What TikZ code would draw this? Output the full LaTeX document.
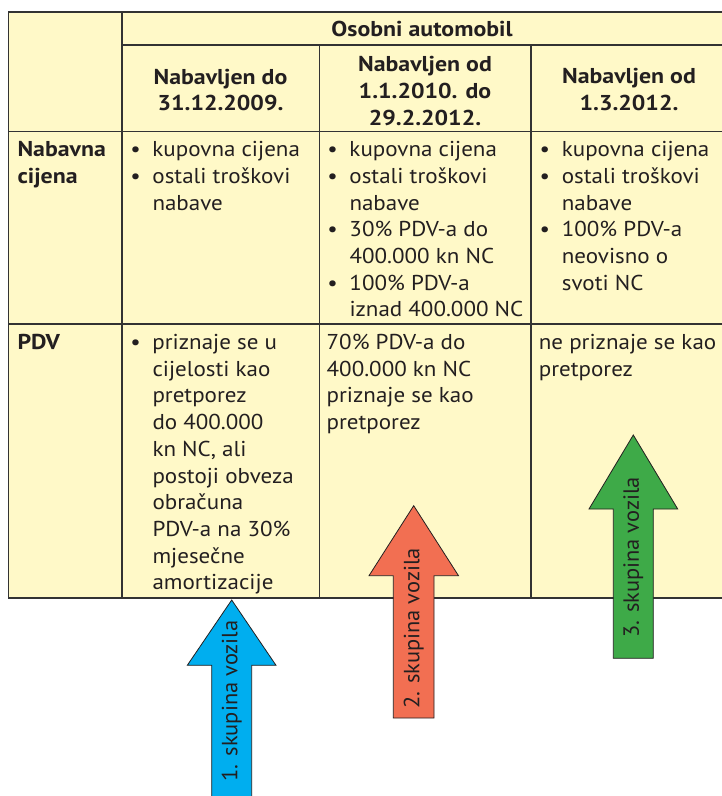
\documentclass[tikz,border=0pt]{standalone}
\usepackage{fontspec}
\setmainfont{PT Sans}[FakeStretch=1.07,BoldFeatures={FakeStretch=1.11}]
\newfontfamily\arrowfont{PT Sans}[FakeStretch=1.02]
\definecolor{cellfill}{HTML}{FFF9C8}
\definecolor{rulec}{HTML}{333333}
\definecolor{ink}{HTML}{231F20}
\definecolor{blueA}{HTML}{00AEEF}
\definecolor{orangeA}{HTML}{F26F52}
\definecolor{greenA}{HTML}{3EAA48}
\newcommand{\bl}{\makebox[0pt][r]{\makebox[12pt]{•}\hspace{11pt}}}
\begin{document}
\begin{tikzpicture}[x=1pt,y=-1pt,
  grid/.style={draw=rulec,line width=1.2pt},
  celltext/.style={inner sep=0pt,anchor=base west,text=ink,font=\fontsize{21.5}{26.7}\selectfont},
  headtext/.style={inner sep=0pt,anchor=base,text=ink,font=\fontsize{21.5}{26.7}\selectfont\bfseries},
  bigarrow/.style={draw=ink,line width=0.8pt,line join=miter},
  arrowlabel/.style={inner sep=0pt,rotate=90,text=ink,font=\arrowfont\fontsize{22}{26}\selectfont}]
\useasboundingbox (0,0) rectangle (722,796);
% table background
\fill[cellfill] (8.5,12) rectangle (722,598);
% grid
\draw[grid] (722,12) -- (8.5,12) -- (8.5,598) -- (722,598);
\draw[grid] (122,45) -- (722,45);
\draw[grid] (8.5,131.7) -- (722,131.7);
\draw[grid] (8.5,324) -- (722,324);
\draw[grid] (122,12) -- (122,598);
\draw[grid] (319.5,45) -- (319.5,598);
\draw[grid] (531,45) -- (531,598);
% header
\node[headtext] (osobni) at (422,36.5) {Osobni automobil};
\node[headtext] (h1) at (220.5,84) {\parbox[t]{190pt}{\centering Nabavljen do\\31.12.2009.}};
\node[headtext] (h2) at (425,71.7) {\parbox[t]{205pt}{\centering Nabavljen od\\1.1.2010. do\\29.2.2012.}};
\node[headtext] (h3) at (629,83.3) {\parbox[t]{185pt}{\centering Nabavljen od\\1.3.2012.}};
% row labels
\node[celltext,font=\fontsize{21.5}{26.7}\selectfont\bfseries] (r1) at (17.3,156.7) {\parbox[t]{100pt}{Nabavna\\cijena}};
\node[celltext,font=\fontsize{21.5}{26.7}\selectfont\bfseries] (r2) at (17.3,349.5) {PDV};
% row: Nabavna cijena
\node[celltext] (c11) at (152.3,156.7) {\parbox[t]{165pt}{\raggedright\bl kupovna cijena\\\bl ostali troškovi\\nabave}};
\node[celltext] (c12) at (349.3,156.7) {\parbox[t]{180pt}{\raggedright\bl kupovna cijena\\\bl ostali troškovi\\nabave\\\bl 30\% PDV-a do\\400.000 kn NC\\\bl 100\% PDV-a\\iznad 400.000 NC}};
\node[celltext] (c13) at (561.7,156.7) {\parbox[t]{160pt}{\raggedright\bl kupovna cijena\\\bl ostali troškovi\\nabave\\\bl 100\% PDV-a\\neovisno o\\svoti NC}};
% row: PDV
\node[celltext] (c21) at (152.3,349.5) {\parbox[t]{165pt}{\raggedright\bl priznaje se u\\cijelosti kao\\pretporez\\do 400.000\\kn NC, ali\\postoji obveza\\obračuna\\PDV-a na 30\%\\mjesečne\\amortizacije}};
\node[celltext] (c22) at (326.5,349.5) {\parbox[t]{200pt}{\raggedright 70\% PDV-a do\\400.000 kn NC\\priznaje se kao\\pretporez}};
\node[celltext] (c23) at (538.7,349.5) {\parbox[t]{185pt}{\raggedright ne priznaje se kao\\pretporez}};
% arrows
\draw[bigarrow,fill=blueA] (211.7,797) -- (211.7,665.3) -- (187.3,665.3) -- (231.7,600) -- (276,665.3) -- (251.7,665.3) -- (251.7,797) -- cycle;
\draw[bigarrow,fill=orangeA] (393.3,718) -- (393.3,575.7) -- (369,575.7) -- (413.7,505.7) -- (458.5,575.7) -- (434,575.7) -- (434,718) -- cycle;
\draw[bigarrow,fill=greenA] (613.3,658.3) -- (613.3,509) -- (589,509) -- (633.3,435) -- (677.7,509) -- (653.3,509) -- (653.3,658.3) -- cycle;
\node[arrowlabel] (g1) at (231.7,701) {1. skupina vozila};
\node[arrowlabel] (g2) at (413.7,628.5) {2. skupina vozila};
\node[arrowlabel] (g3) at (633.3,557.5) {3. skupina vozila};
\end{tikzpicture}
\end{document}
